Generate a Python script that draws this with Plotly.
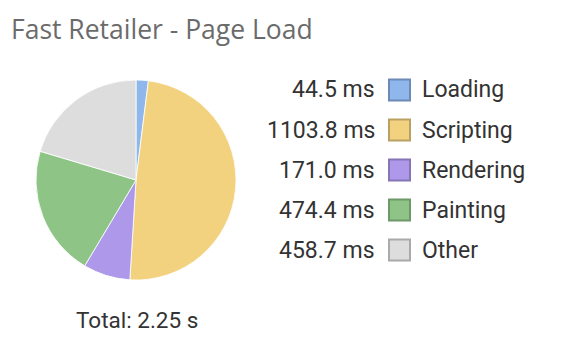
import plotly.graph_objects as go

# ---- data ----
categories = ["Loading", "Scripting", "Rendering", "Painting", "Other"]
durations_ms = [44.5, 1103.8, 171.0, 474.4, 458.7]
fill_colors = ["#8fb7ec", "#f2d27e", "#ae98ea", "#8fc487", "#dddddd"]
border_colors = ["#6d8ab5", "#b9a165", "#8675b5", "#6f9868", "#aaaaaa"]
title_text = "Fast Retailer - Page Load"

W, H = 584, 346


def px(x):
    return x / W


def py(y):
    return 1 - y / H


fig = go.Figure()
fig.add_trace(go.Pie(
    labels=categories,
    values=durations_ms,
    sort=False,
    direction="clockwise",
    rotation=0,
    marker=dict(colors=fill_colors, line=dict(color="#ffffff", width=0.8)),
    textinfo="none",
    hoverinfo="label+value",
    showlegend=False,
    domain=dict(x=[px(36), px(236)], y=[py(280), py(80)]),
))

annotations = [
    dict(text=title_text, x=px(9), y=py(29), xref="paper", yref="paper",
         xanchor="left", yanchor="middle", showarrow=False,
         font=dict(family="Open Sans", size=26.5, color="#6b6b6b")),
]
shapes = []
total_s = sum(durations_ms) / 1000.0
annotations.append(dict(text=f"Total: {total_s:.2f} s", x=px(137), y=py(320),
                        xref="paper", yref="paper", xanchor="center", yanchor="middle",
                        showarrow=False,
                        font=dict(family="Roboto", size=22.5, color="#333333")))

row_y0 = 90
row_step = 40
for i, (cat, val) in enumerate(zip(categories, durations_ms)):
    yc = row_y0 + i * row_step
    annotations.append(dict(text=f"{val:.1f} ms", x=px(377), y=py(yc), xref="paper", yref="paper",
                            xanchor="right", yanchor="middle", showarrow=False,
                            font=dict(family="Roboto", size=23, color="#333333")))
    annotations.append(dict(text=cat, x=px(420), y=py(yc), xref="paper", yref="paper",
                            xanchor="left", yanchor="middle", showarrow=False,
                            font=dict(family="Roboto", size=23, color="#333333")))
    shapes.append(dict(type="rect", xref="paper", yref="paper",
                       x0=px(389), x1=px(410), y0=py(yc + 10.5), y1=py(yc - 10.5),
                       fillcolor=fill_colors[i], line=dict(color=border_colors[i], width=2)))

fig.update_layout(
    width=W, height=H,
    margin=dict(l=0, r=0, t=0, b=0),
    paper_bgcolor="#ffffff",
    plot_bgcolor="#ffffff",
    annotations=annotations,
    shapes=shapes,
)

fig.write_html("out.html")
